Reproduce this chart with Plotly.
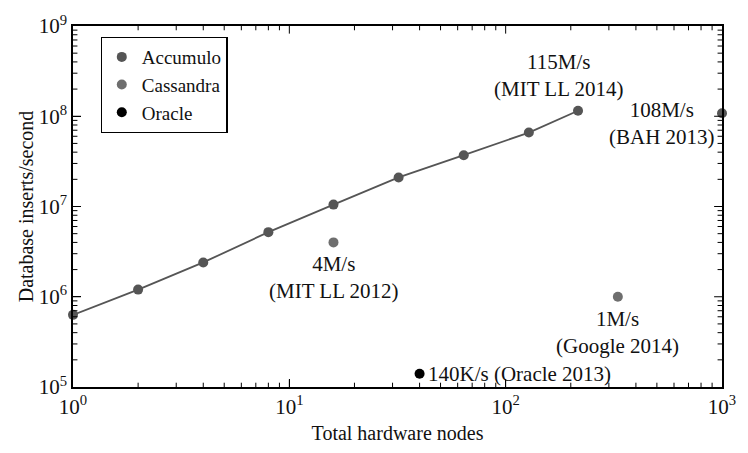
import math
import plotly.graph_objects as go

# Data
accumulo_nodes = [1, 2, 4, 8, 16, 32, 64, 128, 216]
accumulo_rate = [6.3e5, 1.2e6, 2.4e6, 5.2e6, 1.05e7, 2.1e7, 3.7e7, 6.6e7, 1.15e8]
bah_nodes = [1000]
bah_rate = [1.08e8]
cassandra_nodes = [16, 330]
cassandra_rate = [4.0e6, 1.0e6]
oracle_nodes = [40]
oracle_rate = [1.4e5]

tick_decades_x = [1, 10, 100, 1000]
tick_labels_x = ["10<sup>0</sup>", "10<sup>1</sup>", "10<sup>2</sup>", "10<sup>3</sup>"]
tick_decades_y = [1e5, 1e6, 1e7, 1e8, 1e9]
tick_labels_y = ["10<sup>5</sup>", "10<sup>6</sup>", "10<sup>7</sup>", "10<sup>8</sup>", "10<sup>9</sup>"]
x_minor = [m * 10 ** d for d in range(0, 3) for m in range(2, 10)]
y_minor = [m * 10 ** d for d in range(5, 9) for m in range(2, 10)]

ACC = "#555555"
CAS = "#6e6e6e"
ORA = "#000000"
FONT = "Liberation Serif"

fig = go.Figure()
fig.add_trace(go.Scatter(x=accumulo_nodes, y=accumulo_rate, mode="lines",
                         showlegend=False, line=dict(color=ACC, width=1.8),
                         cliponaxis=False, hoverinfo="skip"))
fig.add_trace(go.Scatter(x=accumulo_nodes, y=accumulo_rate, mode="markers",
                         name="Accumulo", legendgroup="acc",
                         marker=dict(color=ACC, size=10), cliponaxis=False))
fig.add_trace(go.Scatter(x=bah_nodes, y=bah_rate, mode="markers", showlegend=False,
                         legendgroup="acc",
                         marker=dict(color=ACC, size=10), cliponaxis=False))
fig.add_trace(go.Scatter(x=cassandra_nodes, y=cassandra_rate, mode="markers",
                         name="Cassandra", marker=dict(color=CAS, size=10), cliponaxis=False))
fig.add_trace(go.Scatter(x=oracle_nodes, y=oracle_rate, mode="markers",
                         name="Oracle", marker=dict(color=ORA, size=10), cliponaxis=False))

ann_font = dict(family=FONT, size=21, color="#111111")
annotations = [
    dict(x=math.log10(216), y=math.log10(1.15e8), text="115M/s<br>(MIT LL 2014)",
         xanchor="center", yanchor="bottom", xshift=-20, yshift=8),
    dict(x=math.log10(1000), y=math.log10(1.08e8), text="108M/s<br>(BAH 2013)",
         xanchor="center", yanchor="middle", xshift=-60, yshift=-10),
    dict(x=math.log10(16), y=math.log10(4.0e6), text="4M/s<br>(MIT LL 2012)",
         xanchor="center", yanchor="top", yshift=-8),
    dict(x=math.log10(330), y=math.log10(1.0e6), text="1M/s<br>(Google 2014)",
         xanchor="center", yanchor="top", yshift=-8),
    dict(x=math.log10(40), y=math.log10(1.4e5), text="140K/s (Oracle 2013)",
         xanchor="left", yanchor="middle", xshift=6),
]
for a in annotations:
    a.update(showarrow=False, font=ann_font, xref="x", yref="y", align="center")

# tick marks on all four sides, derived from the tick arrays
PW, PH = 748 - 73 - 16, 453 - 15 - 59
shapes = []
def xticks(vals, length):
    f = length / PH
    for v in vals:
        shapes.append(dict(type="line", xref="x", yref="y domain", x0=v, x1=v, y0=0, y1=f))
        shapes.append(dict(type="line", xref="x", yref="y domain", x0=v, x1=v, y0=1, y1=1 - f))
def yticks(vals, length):
    f = length / PW
    for v in vals:
        shapes.append(dict(type="line", yref="y", xref="x domain", y0=v, y1=v, x0=0, x1=f))
        shapes.append(dict(type="line", yref="y", xref="x domain", y0=v, y1=v, x0=1, x1=1 - f))
xticks(tick_decades_x[1:-1], 8)
xticks(x_minor, 4.5)
yticks(tick_decades_y[1:-1], 8)
yticks(y_minor, 4.5)
for s in shapes:
    s["line"] = dict(color="black", width=1)
    s["layer"] = "above"

fig.update_layout(
    width=748, height=453,
    margin=dict(l=73, r=16, t=15, b=59),
    paper_bgcolor="white", plot_bgcolor="white",
    font=dict(family=FONT, size=20, color="#111111"),
    showlegend=True,
    legend=dict(x=0.0425, y=0.97, xanchor="left", yanchor="top",
                bordercolor="black", borderwidth=1.2, bgcolor="white",
                font=dict(family=FONT, size=19, color="#111111"),
                itemwidth=30, tracegroupgap=0),
    annotations=annotations,
    shapes=shapes,
)
axis_common = dict(showline=True, linecolor="black", linewidth=1.5, mirror=True,
                   ticks="inside", ticklen=8, tickwidth=1, tickcolor="black",
                   showgrid=False, zeroline=False, tickmode="array",
                   tickfont=dict(family=FONT, size=21, color="#111111"))
fig.update_layout(
    xaxis=dict(type="log", range=[0, 3], tickvals=tick_decades_x, ticktext=tick_labels_x,
               title=dict(text="Total hardware nodes", font=dict(family=FONT, size=20), standoff=8),
               **axis_common),
    yaxis=dict(type="log", range=[5, 9], tickvals=tick_decades_y, ticktext=tick_labels_y,
               title=dict(text="Database inserts/second", font=dict(family=FONT, size=20), standoff=0),
               **axis_common),
)

fig.write_html("out.html")
